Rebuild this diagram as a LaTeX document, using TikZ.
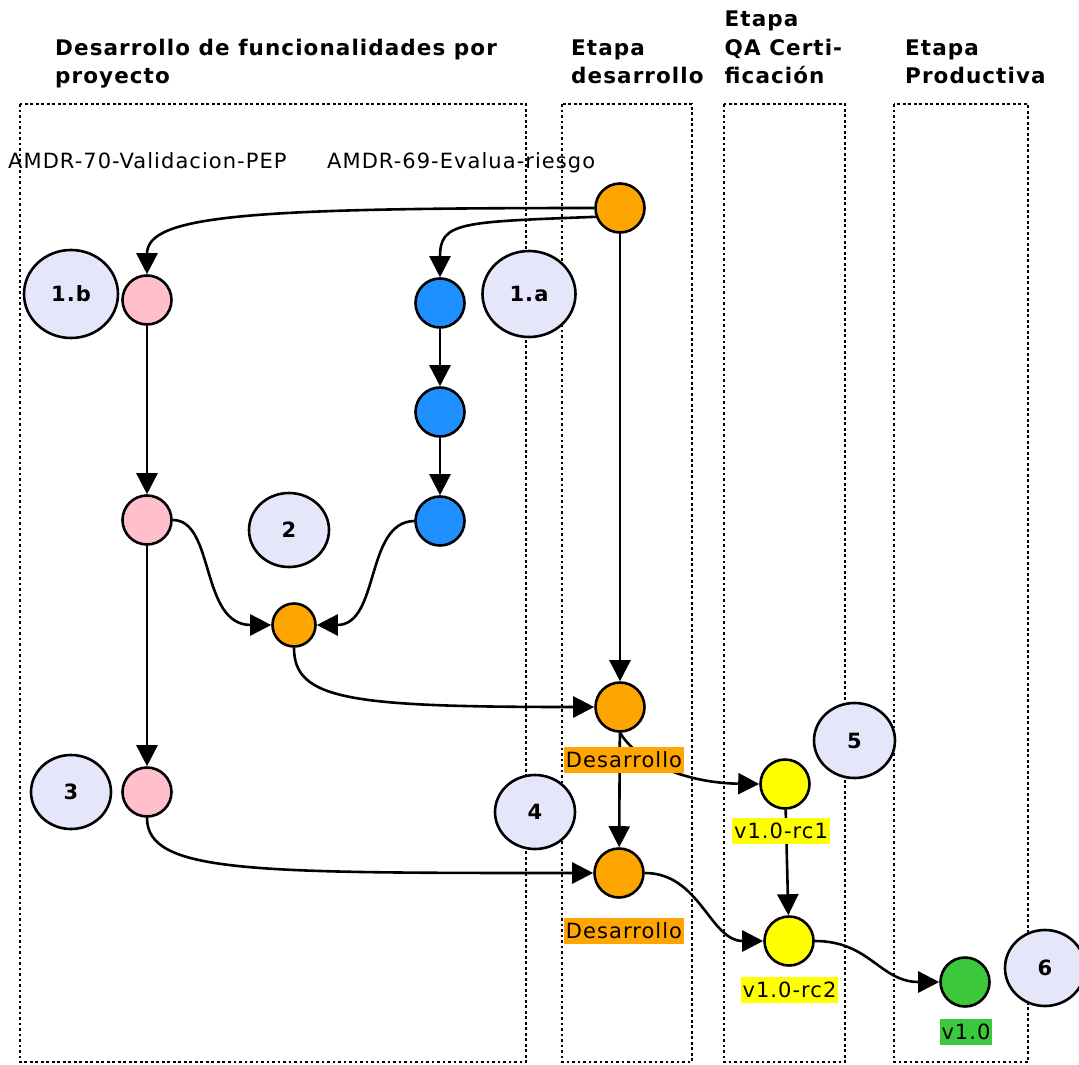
\documentclass[tikz,border=0pt]{standalone}
\usepackage{fontspec}
\setmainfont{DejaVu Sans}[LetterSpace=5]
\usetikzlibrary{arrows.meta,shapes.geometric}
\definecolor{orangec}{HTML}{FFA500}
\definecolor{pinkc}{HTML}{FFC0CB}
\definecolor{bluec}{HTML}{1E90FF}
\definecolor{yellowc}{HTML}{FFFF00}
\definecolor{greenc}{HTML}{3CC83C}
\definecolor{lav}{HTML}{E6E6FA}
\newcommand{\txtfont}{\fontsize{21}{24}\selectfont}
\newcommand{\headfont}{\fontsize{21.5}{28.5}\selectfont\bfseries}
\newcommand{\numfont}{\fontsize{21}{23}\selectfont\bfseries}
\begin{document}
\begin{tikzpicture}[x=1pt,y=-1pt,
  cl/.style={draw, line width=2.8pt, dash pattern=on 2.8pt off 2.7pt},
  commit/.style={circle, draw, line width=2.6pt, minimum size=49pt, inner sep=0pt},
  num/.style={ellipse, draw, line width=2.6pt, fill=lav, inner sep=0pt, font=\numfont},
  tag/.style={inner sep=2pt, minimum height=26pt, font=\txtfont, text=black},
  head/.style={anchor=base west, align=left, font=\headfont, inner sep=0pt},
  arr/.style={line width=2.6pt, -{Triangle[length=21pt,width=21pt]}}]
\useasboundingbox (0,0) rectangle (1079,1065);

% stage headers (anchored at the baseline of their last line)
\node[head] (h1) at (55,84) {Desarrollo de funcionalidades por\\proyecto};
\node[head] (h2) at (571,84) {Etapa\\desarrollo};
\node[head] (h3) at (724.5,84) {Etapa\\QA Certi-\\ficación};
\node[head] (h4) at (905,84) {Etapa\\Productiva};

% branch names
\node[tag, anchor=base west, inner sep=0pt, minimum height=0pt] (br70) at (8,168) {AMDR-70-Validacion-PEP};
\node[tag, anchor=base west, inner sep=0pt, minimum height=0pt] (br69) at (327,168) {AMDR-69-Evalua-riesgo};

% stage frames
\draw[cl] (20,104) rectangle (526,1062);
\draw[cl] (562,104) rectangle (692,1062);
\draw[cl] (724,104) rectangle (845,1062);
\draw[cl] (894,104) rectangle (1028,1062);

% step numbers
\node[num, minimum width=94pt, minimum height=88pt] (n1b) at (71,294) {1.b};
\node[num, minimum width=93pt, minimum height=86pt] (n1a) at (529,294) {1.a};
\node[num, minimum width=80pt, minimum height=74pt] (n2) at (289,530) {2};
\node[num, minimum width=80pt, minimum height=74pt] (n3) at (71,792) {3};
\node[num, minimum width=80pt, minimum height=74pt] (n4) at (535,812) {4};
\node[num, minimum width=81pt, minimum height=75pt] (n5) at (854.5,740.5) {5};
\node[num, minimum width=80pt, minimum height=76pt] (n6) at (1045,968) {6};

% commits
\node[commit, fill=orangec] (o1) at (620,208) {};
\node[commit, fill=pinkc] (p1) at (147,300) {};
\node[commit, fill=pinkc] (p2) at (147,520) {};
\node[commit, fill=pinkc] (p3) at (147,792) {};
\node[commit, fill=bluec] (b1) at (440,303) {};
\node[commit, fill=bluec] (b2) at (440,412) {};
\node[commit, fill=bluec] (b3) at (440,521) {};
\node[commit, fill=orangec, minimum size=43pt] (o2) at (294,625) {};
\node[commit, fill=orangec] (o3) at (620,707) {};
\node[commit, fill=orangec] (o4) at (619,873) {};
\node[commit, fill=yellowc] (y1) at (785,784) {};
\node[commit, fill=yellowc] (y2) at (789,941) {};
\node[commit, fill=greenc] (g) at (965,982) {};

% history
\draw[arr] (o1.west) .. controls (250,208) and (147,215) .. (p1.north);
\draw[arr] (o1.200) .. controls (460,222) and (440,222) .. (b1.north);
\draw[arr] (p1) -- (p2);
\draw[arr] (p2) -- (p3);
\draw[arr] (b1) -- (b2);
\draw[arr] (b2) -- (b3);
\draw[arr] (p2.east) .. controls (215,520) and (200,625) .. (o2.west);
\draw[arr] (b3.west) .. controls (365,522) and (380,625) .. (o2.east);
\draw[arr] (o2.south) .. controls (294,700) and (350,707) .. (o3.west);
\draw[arr] (o1) -- (o3);
\draw[arr] (o3) -- (o4);
\draw[arr] (o3.south) .. controls (640,765) and (690,783) .. (y1.west);
\draw[arr] (p3.south) .. controls (147,873) and (250,873) .. (o4.west);
\draw[arr] (o4.east) .. controls (700,873) and (710,941) .. (y2.west);
\draw[arr] (y1) -- (y2);
\draw[arr] (y2.east) .. controls (870,941) and (880,982) .. (g.west);

% tags
\node[tag, fill=orangec] (t1) at (624,760) {Desarrollo};
\node[tag, fill=orangec] (t2) at (624,931) {Desarrollo};
\node[tag, fill=yellowc] (t3) at (781,831) {v1.0-rc1};
\node[tag, fill=yellowc] (t4) at (789.5,990) {v1.0-rc2};
\node[tag, fill=greenc] (t5) at (966,1032) {v1.0};
\end{tikzpicture}
\end{document}
